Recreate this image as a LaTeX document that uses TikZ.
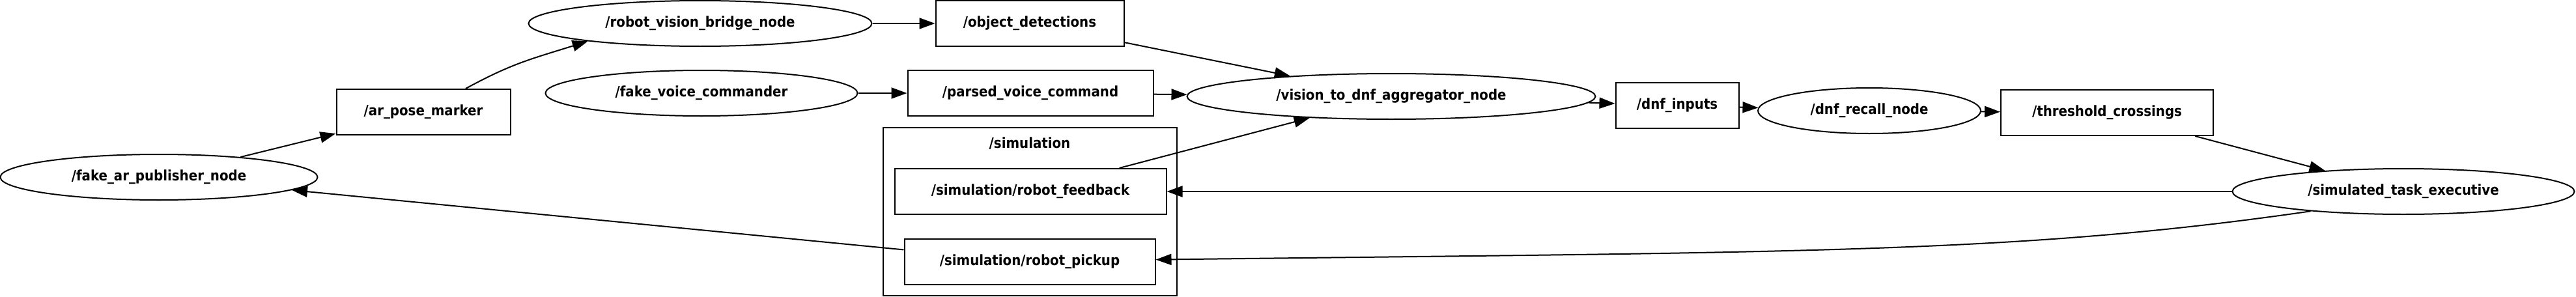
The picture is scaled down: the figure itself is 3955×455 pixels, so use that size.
\documentclass[tikz,border=0pt]{standalone}
\usepackage{fontspec}
\setmainfont{DejaVu Sans Condensed}
\usetikzlibrary{shapes.geometric, arrows.meta}

\begin{document}
\begin{tikzpicture}[x=1pt, y=-1pt, line width=2pt,
  >={Triangle[length=24pt,width=17pt]},
  every node/.style={font=\fontsize{22}{26}\selectfont\bfseries},
  topic/.style={draw, rectangle, inner sep=0pt, minimum height=70pt},
  rosnode/.style={draw, ellipse, inner sep=0pt, minimum height=70pt}]
\useasboundingbox (0,0) rectangle (3955,455);
% namespace box
\node[draw, inner sep=0pt, minimum width=451pt, minimum height=258pt] (sim) at (1581.5,325) {};
\node (simlabel) at (1581,220) {/simulation};
% ros nodes
\node[rosnode, minimum width=487pt] (fakear) at (244,272) {/fake\_ar\_publisher\_node};
\node[rosnode, minimum width=527pt] (bridge) at (1075,36) {/robot\_vision\_bridge\_node};
\node[rosnode, minimum width=479pt] (voice) at (1077,143) {/fake\_voice\_commander};
\node[rosnode, minimum width=627pt] (aggr) at (2136,148) {/vision\_to\_dnf\_aggregator\_node};
\node[rosnode, minimum width=342pt] (recall) at (2870,170) {/dnf\_recall\_node};
\node[rosnode, minimum width=525pt] (exec) at (3690,294) {/simulated\_task\_executive};
% topics
\node[topic, minimum width=267pt] (arpose) at (650,172) {/ar\_pose\_marker};
\node[topic, minimum width=289pt] (objdet) at (1581,36) {/object\_detections};
\node[topic, minimum width=377pt] (parsed) at (1582,143) {/parsed\_voice\_command};
\node[topic, minimum width=417pt] (feedback) at (1582,294) {/simulation/robot\_feedback};
\node[topic, minimum width=385pt] (pickup) at (1581,402) {/simulation/robot\_pickup};
\node[topic, minimum width=189pt] (dnfin) at (2575,162) {/dnf\_inputs};
\node[topic, minimum width=326pt] (thresh) at (3235,173) {/threshold\_crossings};
% connections
\draw[->] (fakear) -- (arpose);
\draw[->] (arpose.29) .. controls +(70,-38) and +(-90,28) .. (bridge.189);
\draw[->] (bridge) -- (objdet);
\draw[->] (objdet) -- (aggr);
\draw[->] (voice) -- (parsed);
\draw[->] (parsed) -- (aggr);
\draw[->] (feedback) -- (aggr);
\draw[->] (aggr) -- (dnfin);
\draw[->] (dnfin) -- (recall);
\draw[->] (recall) -- (thresh);
\draw[->] (thresh) -- (exec);
\draw[->] (exec) -- (feedback);
\draw[->] (exec.192) .. controls +(-450,65) and +(1000,-12) .. (pickup.1.5);
\draw[->] (pickup) -- (fakear);
\end{tikzpicture}
\end{document}
